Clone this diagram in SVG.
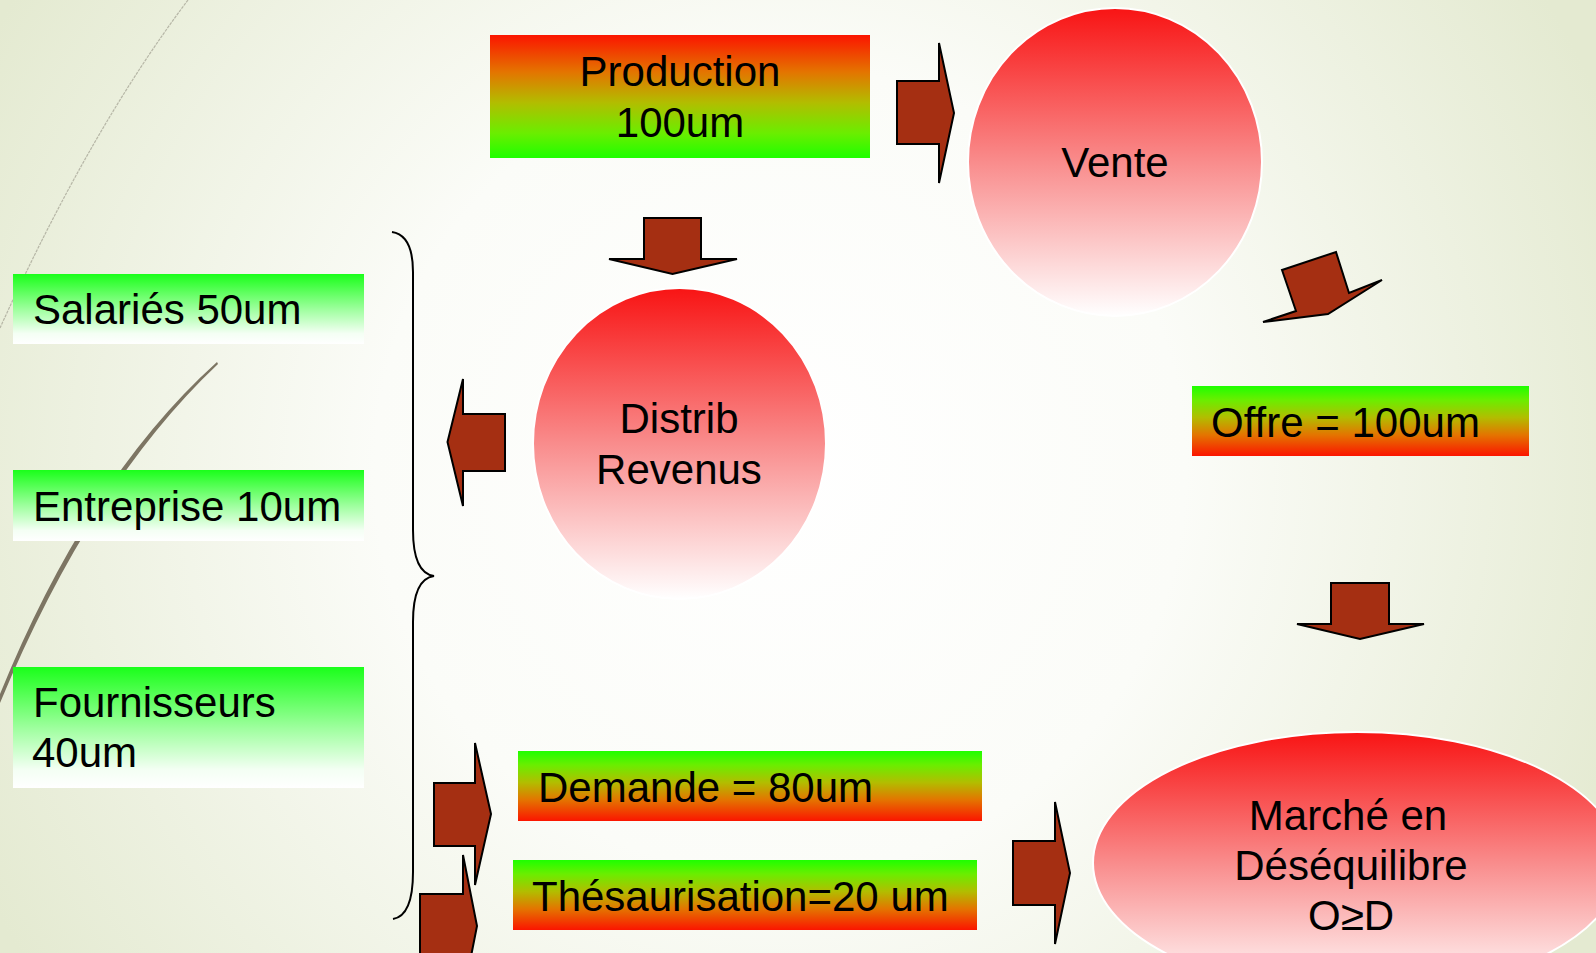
<svg xmlns="http://www.w3.org/2000/svg" width="1596" height="953" viewBox="0 0 1596 953">
<defs>
<radialGradient id="bg" cx="780" cy="470" r="900" gradientUnits="userSpaceOnUse">
<stop offset="0" stop-color="#ffffff"/>
<stop offset="0.45" stop-color="#fbfcf8"/>
<stop offset="1" stop-color="#e4ead1"/>
</radialGradient>
<linearGradient id="redGreen" x1="0" y1="0" x2="0" y2="1">
<stop offset="0" stop-color="#fb1500"/>
<stop offset="0.3" stop-color="#e47400"/>
<stop offset="0.55" stop-color="#b2bd00"/>
<stop offset="0.8" stop-color="#6aee00"/>
<stop offset="1" stop-color="#1eff00"/>
</linearGradient>
<linearGradient id="greenRed" x1="0" y1="0" x2="0" y2="1">
<stop offset="0" stop-color="#1eff00"/>
<stop offset="0.2" stop-color="#6aee00"/>
<stop offset="0.45" stop-color="#b2bd00"/>
<stop offset="0.7" stop-color="#e47400"/>
<stop offset="1" stop-color="#fb1500"/>
</linearGradient>
<linearGradient id="greenWhite" x1="0" y1="0" x2="0" y2="1">
<stop offset="0" stop-color="#1aff1a"/>
<stop offset="0.5" stop-color="#9dff9d"/>
<stop offset="0.85" stop-color="#f4fff4"/>
<stop offset="1" stop-color="#ffffff"/>
</linearGradient>
<linearGradient id="redWhite" x1="0" y1="0" x2="0" y2="1">
<stop offset="0" stop-color="#f81414"/>
<stop offset="0.5" stop-color="#f98c8c"/>
<stop offset="1" stop-color="#ffffff"/>
</linearGradient>
<style>
.lbl{font-family:"Liberation Sans",Arial,sans-serif;font-size:42px;fill:#000}
.mid{text-anchor:middle}
.arrow{fill:#a52f12;stroke:#000;stroke-width:2;stroke-linejoin:miter}
.bubble{fill:url(#redWhite);stroke:#ffffff;stroke-width:2}
</style>
</defs>
<rect x="0" y="0" width="1596" height="953" fill="url(#bg)"/>
<g id="decor">
<path d="M188,0 Q90,130 0,328" fill="none" stroke="#a9a898" stroke-width="1.2" stroke-dasharray="3 1" opacity="0.8"/>
<path d="M217,362 Q88,478 0,694 L0,703 Q91,484 218,364 Z" fill="#7d7563"/>
</g>
<g id="production">
<rect x="490" y="35" width="380" height="123" fill="url(#redGreen)"/>
<text class="lbl mid" x="680" y="86">Production</text>
<text class="lbl mid" x="680" y="137">100um</text>
</g>
<g id="vente">
<ellipse class="bubble" cx="1115" cy="162" rx="147" ry="154"/>
<text class="lbl mid" x="1115" y="177">Vente</text>
</g>
<g id="distrib">
<ellipse class="bubble" cx="679.5" cy="443.5" rx="146.5" ry="155.5"/>
<text class="lbl mid" x="679" y="433">Distrib</text>
<text class="lbl mid" x="679" y="484">Revenus</text>
</g>
<g id="salaries">
<rect x="13" y="274" width="351" height="70" fill="url(#greenWhite)"/>
<text class="lbl" x="33" y="324">Salariés 50um</text>
</g>
<g id="entreprise">
<rect x="13" y="470" width="351" height="71" fill="url(#greenWhite)"/>
<text class="lbl" x="33" y="521">Entreprise 10um</text>
</g>
<g id="fournisseurs">
<rect x="13" y="667" width="351" height="121" fill="url(#greenWhite)"/>
<text class="lbl" x="33" y="717">Fournisseurs</text>
<text class="lbl" x="32" y="767">40um</text>
</g>
<g id="offre">
<rect x="1192" y="386" width="337" height="70" fill="url(#greenRed)"/>
<text class="lbl" x="1211" y="437">Offre = 100um</text>
</g>
<g id="demande">
<rect x="518" y="751" width="464" height="70" fill="url(#greenRed)"/>
<text class="lbl" x="538" y="802">Demande = 80um</text>
</g>
<g id="thesaurisation">
<rect x="513" y="860" width="464" height="70" fill="url(#greenRed)"/>
<text class="lbl" x="532" y="911">Thésaurisation=20 um</text>
</g>
<g id="marche">
<ellipse class="bubble" cx="1357" cy="863" rx="264" ry="131"/>
<text class="lbl mid" x="1348" y="830">Marché en</text>
<text class="lbl mid" x="1351" y="880">Déséquilibre</text>
<text class="lbl mid" x="1351" y="930">O≥D</text>
</g>
<g id="brace">
<path d="M392,232 C405,234 413,246 413,272 L413,530 C413,560 420,574 434,576 C420,578 413,592 413,622 L413,872 C413,905 405,917 393,919" fill="none" stroke="#000" stroke-width="2"/>
</g>
<g id="connectors">
<path class="arrow" d="M897,81 L939,81 L939,43 L954,113 L939,183 L939,144 L897,144 Z"/>
<path class="arrow" d="M644,218 L701,218 L701,259 L737,259 L672.5,274 L609,259 L644,259 Z"/>
<path class="arrow" d="M505,414 L463,414 L463,379 L447.5,442 L463,506 L463,471 L505,471 Z"/>
<path class="arrow" d="M1282,270 L1336,252 L1349,293 L1382,280 L1328,314 L1263,322 L1296,311 Z"/>
<path class="arrow" d="M1331,583 L1389,583 L1389,624 L1424,624 L1360,639 L1297,624 L1331,624 Z"/>
<path class="arrow" d="M434,783 L475,783 L475,743 L491,814 L475,885 L475,846 L434,846 Z"/>
<path class="arrow" d="M420,894 L463,894 L463,855 L477,926 L463,997 L463,958 L420,958 Z"/>
<path class="arrow" d="M1013,841 L1055,841 L1055,802 L1070,873 L1055,944 L1055,905 L1013,905 Z"/>
</g>
</svg>
